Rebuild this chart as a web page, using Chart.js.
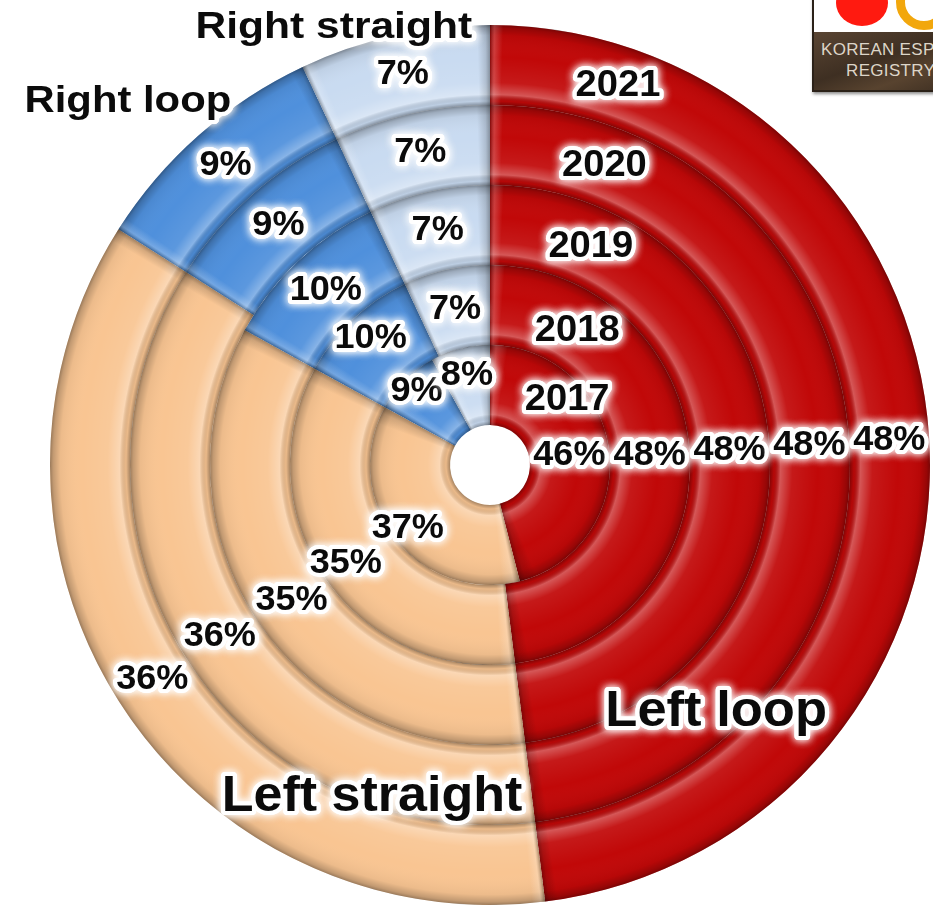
<!DOCTYPE html>
<html>
<head>
<meta charset="utf-8">
<title>Fingerprint pattern share by year</title>
<script src="https://cdn.jsdelivr.net/npm/chart.js@4"></script>
<style>
    html, body { margin: 0; padding: 0; background: #fff; overflow: hidden; }
    #wrap { position: relative; width: 933px; height: 907px; }
    #logo {
        position: absolute; left: 812px; top: -40px; width: 150px; height: 128px;
        border: 2px solid #2b2118; box-shadow: 1px 2px 3px rgba(0,0,0,0.45);
        background: #fff; overflow: hidden;
    }
    #logo .red { position: absolute; left: 22px; top: 18px; width: 52px; height: 46px; border-radius: 50%; background: #ff1a10; }
    #logo .ring { position: absolute; left: 82px; top: 12px; width: 38px; height: 38px; border-radius: 50%; border: 9px solid #f2a70c; }
    #logo .band {
        position: absolute; left: 0; right: 0; bottom: 0; height: 58px;
        background: linear-gradient(160deg, #5a4533, #3e2f22 45%, #58432f 70%, #3a2c20);
        color: #ddd5c8; font: 17px "Liberation Sans Narrow", "Liberation Sans", Arial, sans-serif; letter-spacing: 0.3px;
        text-align: left; line-height: 21px; padding: 7px 0 0 7px; box-sizing: border-box; white-space: nowrap;
    }
</style>
</head>
<body>
<div id="wrap">
    <canvas id="chart" width="933" height="907"></canvas>
    <div id="logo">
        <div class="red"></div><div class="ring"></div>
        <div class="band">KOREAN ESP<br>&nbsp;&nbsp;&nbsp;&nbsp;&nbsp;REGISTRY</div>
    </div>
</div>
<script>
// shares per year, in percent (innermost ring = 2017)
const years = ['2017', '2018', '2019', '2020', '2021'];
const categories = ['Left loop', 'Left straight', 'Right loop', 'Right straight'];
const leftLoop = [46, 48, 48, 48, 48];
const leftStraight = [37, 35, 35, 36, 36];
const rightLoop = [9, 10, 10, 9, 9];
const rightStraight = [8, 7, 7, 7, 7];

const baseColors = ['#c10808', '#f9c592', '#4f90dc', '#c9dbf1'];

// where the category names sit, relative to the centre, in units of the outer radius
const nameSpots = {
    'Right straight': { dx: -0.355, dy: -0.993, size: 37, sx: 1.15 },
    'Right loop': { dx: -0.823, dy: -0.825, size: 37, sx: 1.13 },
    'Left loop': { dx: 0.514, dy: 0.561, size: 50, sx: 1.05 },
    'Left straight': { dx: -0.268, dy: 0.755, size: 50, sx: 1.04 }
};

// how far across a ring (0 = inner edge, 1 = outer) the percent label sits;
// the two inner rings are thin next to the text, so most labels move outwards there
function labelFrac(ringFromCentre, cat) {
    if (cat === 0) return 0.5;
    if (ringFromCentre === 0) return cat === 3 ? 0.66 : 0.8;
    if (ringFromCentre === 1 && cat !== 3) return 0.68;
    return 0.5;
}

// Chart.js draws the first dataset as the outer ring, so go from 2021 inwards
const datasets = years.map((year, i) => ({
    label: year,
    data: [leftLoop[i], leftStraight[i], rightLoop[i], rightStraight[i]],
    backgroundColor: baseColors,
    borderWidth: 0
})).reverse();

function arcPath(ctx, a) {
    ctx.beginPath();
    ctx.arc(a.x, a.y, a.outerRadius, a.startAngle, a.endAngle);
    ctx.arc(a.x, a.y, a.innerRadius, a.endAngle, a.startAngle, true);
    ctx.closePath();
}

function haloText(ctx, text, x, y, size, sx) {
    ctx.save();
    ctx.translate(x, y);
    ctx.scale(sx || 1, 1);
    ctx.font = `bold ${size}px "Liberation Sans", Arial, sans-serif`;
    ctx.textAlign = 'center';
    ctx.textBaseline = 'middle';
    ctx.lineJoin = 'round';
    ctx.shadowColor = 'rgba(255,255,255,1)';
    ctx.shadowBlur = 9;
    ctx.strokeStyle = 'rgba(255,255,255,0.92)';
    ctx.lineWidth = 8;
    ctx.strokeText(text, 0, 0);
    ctx.strokeText(text, 0, 0);
    ctx.shadowBlur = 0;
    ctx.fillStyle = '#0b0b0b';
    ctx.fillText(text, 0, 0);
    ctx.restore();
}

// bevel look: radial light/shadow across each ring plus darker ends on every segment
const bevel = {
    id: 'bevel',
    afterDatasetsDraw(chart) {
        const ctx = chart.ctx;
        chart.data.datasets.forEach((ds, di) => {
            chart.getDatasetMeta(di).data.forEach(arc => {
                const a = arc.getProps(['x', 'y', 'startAngle', 'endAngle', 'innerRadius', 'outerRadius']);
                ctx.save();
                arcPath(ctx, a);
                ctx.clip();

                const rg = ctx.createRadialGradient(a.x, a.y, a.innerRadius, a.x, a.y, a.outerRadius);
                rg.addColorStop(0, 'rgba(0,0,0,0.32)');
                rg.addColorStop(0.05, 'rgba(0,0,0,0.06)');
                rg.addColorStop(0.13, 'rgba(255,255,255,0.32)');
                rg.addColorStop(0.28, 'rgba(255,255,255,0.07)');
                rg.addColorStop(0.6, 'rgba(255,255,255,0)');
                rg.addColorStop(0.87, 'rgba(0,0,0,0.05)');
                rg.addColorStop(0.96, 'rgba(0,0,0,0.22)');
                rg.addColorStop(1, 'rgba(0,0,0,0.38)');
                ctx.fillStyle = rg;
                ctx.fillRect(a.x - a.outerRadius, a.y - a.outerRadius, a.outerRadius * 2, a.outerRadius * 2);

                const span = (a.endAngle - a.startAngle) / (Math.PI * 2);
                const mid = (a.innerRadius + a.outerRadius) / 2;
                const f = Math.min(12 / mid / (Math.PI * 2), span / 3);
                const cg = ctx.createConicGradient(a.startAngle, a.x, a.y);
                cg.addColorStop(0, 'rgba(0,0,0,0.32)');
                cg.addColorStop(f * 0.35, 'rgba(255,255,255,0.2)');
                cg.addColorStop(f, 'rgba(255,255,255,0)');
                cg.addColorStop(span - f, 'rgba(0,0,0,0)');
                cg.addColorStop(span - f * 0.35, 'rgba(0,0,0,0.14)');
                cg.addColorStop(span, 'rgba(0,0,0,0.34)');
                cg.addColorStop(Math.min(span + 0.0001, 1), 'rgba(0,0,0,0)');
                ctx.fillStyle = cg;
                ctx.fillRect(a.x - a.outerRadius, a.y - a.outerRadius, a.outerRadius * 2, a.outerRadius * 2);
                ctx.restore();
            });
        });
    }
};

const labels = {
    id: 'ringLabels',
    afterDraw(chart) {
        const ctx = chart.ctx;
        const n = chart.data.datasets.length;
        // inner rings first so the outer labels land on top where they touch
        for (let di = n - 1; di >= 0; di--) {
            const ds = chart.data.datasets[di];
            const ring = n - 1 - di;
            chart.getDatasetMeta(di).data.forEach((arc, j) => {
                const a = arc.getProps(['x', 'y', 'startAngle', 'endAngle', 'innerRadius', 'outerRadius']);
                const r = a.innerRadius + (a.outerRadius - a.innerRadius) * labelFrac(ring, j);
                const mid = (a.startAngle + a.endAngle) / 2;
                haloText(ctx, ds.data[j] + '%', a.x + r * Math.cos(mid), a.y + r * Math.sin(mid), 35, 1.03);
                if (j === 0) {
                    // year name near the top of its ring, inside the red segment
                    const ry = a.innerRadius + (a.outerRadius - a.innerRadius) * (ring === 0 ? 0.76 : 0.5);
                    const dx = 60 + 0.17 * ry;
                    const dy = Math.sqrt(Math.max(ry * ry - dx * dx, 0));
                    haloText(ctx, ds.label, a.x + dx, a.y - dy, 37, 1.03);
                }
            });
        }
        const outer = chart.getDatasetMeta(0).data[0];
        if (!outer) return;
        categories.forEach(name => {
            const s = nameSpots[name];
            haloText(ctx, name, outer.x + s.dx * outer.outerRadius, outer.y + s.dy * outer.outerRadius, s.size, s.sx);
        });
    }
};

new Chart(document.getElementById('chart'), {
    type: 'doughnut',
    data: { labels: categories, datasets },
    options: {
        responsive: false,
        animation: false,
        cutout: 40,
        layout: { padding: { left: 50, right: 3, top: 25, bottom: 2 } },
        plugins: { legend: { display: false }, tooltip: { enabled: false } }
    },
    plugins: [bevel, labels]
});
</script>
</body>
</html>
